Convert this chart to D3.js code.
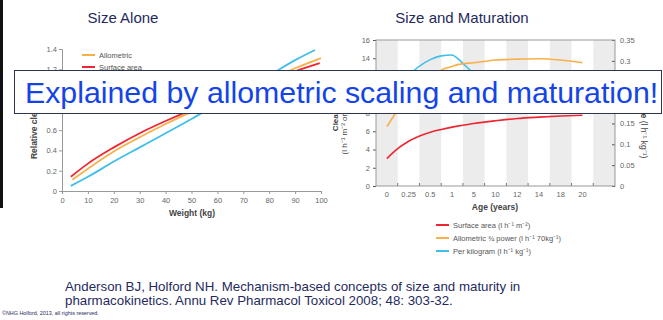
<!DOCTYPE html>
<html>
<head>
<meta charset="utf-8">
<script src="https://cdn.jsdelivr.net/npm/d3@7"></script>
<style>
  html, body { margin: 0; padding: 0; background: #fff; }
  svg { display: block; font-family: "Liberation Sans", Arial, sans-serif; }
</style>
</head>
<body>
<div id="chart"></div>
<script>
// left panel: relative clearance vs weight
const weightPerKg = [3.4, 10, 20, 30, 40, 50, 60, 70, 80, 90, 97.7];
const relPerKg = [0.05, 0.14, 0.29, 0.43, 0.57, 0.71, 0.86, 1.0, 1.14, 1.29, 1.39];
const weightAllo = [4, 10, 20, 30, 40, 50, 60, 70, 80, 90, 100];
const relAllo = [0.11, 0.22, 0.39, 0.53, 0.66, 0.78, 0.89, 1.0, 1.10, 1.21, 1.31];
const weightSurf = [3.4, 10, 20, 30, 40, 50, 60, 70, 80, 90, 99.5];
const relSurf = [0.14, 0.27, 0.43, 0.57, 0.69, 0.80, 0.90, 1.0, 1.09, 1.18, 1.26];
const weightTicks = [0, 10, 20, 30, 40, 50, 60, 70, 80, 90, 100];
const relTicks = [0, 0.2, 0.4, 0.6, 0.8, 1, 1.2, 1.4];

// right panel: clearance vs age
const ageTicks = [0, 0.25, 0.5, 1, 5, 10, 12, 14, 18, 20];
const ageYears = [0, 0.1, 0.25, 0.5, 0.75, 1, 2, 3, 5, 10, 12, 14, 18, 20];
const clSurface = [3.0, 3.9, 4.9, 5.9, 6.2, 6.45, 6.56, 6.66, 6.85, 7.15, 7.4, 7.55, 7.67, 7.75];
const clAllometric = [6.5, 8.0, 10.3, 12.0, 12.7, 13.1, 13.3, 13.4, 13.5, 13.8, 13.9, 13.95, 13.8, 13.5];
const clPerKg = [0.2, 0.23, 0.265, 0.303, 0.312, 0.314, 0.306, 0.294, 0.27, 0.235, 0.225, 0.215, 0.2, 0.195];
const clLeftTicks = [0, 2, 4, 6, 8, 10, 12, 14, 16];
const clRightTicks = [0, 0.05, 0.1, 0.15, 0.2, 0.25, 0.3, 0.35];

const RED = '#ef2530', ORANGE = '#f9b04a', BLUE = '#3fbfe9';
const NAVY = '#1f2b5e';

const svg = d3.select('#chart').append('svg')
    .attr('width', 663)
    .attr('height', 320);

// dark strip on the left edge
svg.append('rect').attr('x', 0).attr('y', 0).attr('width', 3).attr('height', 208).attr('fill', '#111');

// titles
svg.append('text').attr('x', 123).attr('y', 23).attr('text-anchor', 'middle')
    .attr('font-size', 15).attr('fill', NAVY).text('Size Alone');
svg.append('text').attr('x', 462).attr('y', 23).attr('text-anchor', 'middle')
    .attr('font-size', 15).attr('fill', NAVY).text('Size and Maturation');

// ---------- left panel ----------
const xW = d3.scaleLinear().domain([0, 100]).range([62, 321]);
const yRel = d3.scaleLinear().domain([0, 1.4]).range([191, 49]);

const gl = svg.append('g').attr('font-size', 7.5);

const xAxisL = gl.append('g')
    .attr('transform', 'translate(0,191)')
    .call(d3.axisBottom(xW).tickValues(weightTicks).tickSize(3).tickPadding(4).tickFormat(d3.format('d')));
const yAxisL = gl.append('g')
    .attr('transform', 'translate(62,0)')
    .call(d3.axisLeft(yRel).tickValues(relTicks).tickSize(3).tickPadding(2).tickFormat(d => +d.toFixed(1)));
[xAxisL, yAxisL].forEach(a => {
    a.select('.domain').attr('stroke', '#999');
    a.selectAll('.tick line').attr('stroke', '#999');
    a.selectAll('.tick text').attr('fill', '#666').attr('font-family', 'Liberation Sans, Arial, sans-serif').attr('font-size', 7.5);
});

const lineL = d3.line().x(d => xW(d[0])).y(d => yRel(d[1])).curve(d3.curveMonotoneX);
[[weightPerKg, relPerKg, BLUE], [weightAllo, relAllo, ORANGE], [weightSurf, relSurf, RED]].forEach(([w, v, c]) => {
    gl.append('path').datum(w.map((d, i) => [d, v[i]]))
        .attr('d', lineL).attr('fill', 'none').attr('stroke', c).attr('stroke-width', 1.8);
});

// legend left
const legL = [['Allometric', ORANGE], ['Surface area', RED], ['Per kilogram', BLUE]];
legL.forEach(([t, c], i) => {
    const y = 55 + i * 12;
    gl.append('line').attr('x1', 82).attr('x2', 95).attr('y1', y).attr('y2', y).attr('stroke', c).attr('stroke-width', 2);
    gl.append('text').attr('x', 99).attr('y', y + 2.5).attr('fill', '#555').text(t);
});

gl.append('text').attr('x', 192).attr('y', 216).attr('text-anchor', 'middle')
    .attr('font-size', 8.5).attr('font-weight', 'bold').attr('fill', '#444').text('Weight (kg)');
gl.append('text').attr('transform', 'translate(37,122) rotate(-90)').attr('text-anchor', 'middle')
    .attr('font-size', 8.5).attr('font-weight', 'bold').attr('fill', '#444').text('Relative clearance');

// ---------- right panel ----------
const x0 = 376, x1 = 615;
const band = d3.scaleBand().domain(d3.range(11)).range([x0, x1]);
const idxX = i => band(i) + band.bandwidth() / 2;
const xAge = d3.scaleLinear().domain(ageTicks).range(ageTicks.map((d, i) => idxX(i)));
const yCl = d3.scaleLinear().domain([0, 16]).range([186, 40]);
const yKg = d3.scaleLinear().domain([0, 0.35]).range([186, 40]);

const gr = svg.append('g').attr('font-size', 7.5);

gr.selectAll('rect.band').data(band.domain().filter(i => i % 2 === 0)).join('rect')
    .attr('class', 'band')
    .attr('x', d => band(d)).attr('y', 40)
    .attr('width', band.bandwidth()).attr('height', 146)
    .attr('fill', '#ececec');

// bottom ticks at band boundaries
gr.selectAll('line.bt').data(d3.range(1, 11)).join('line')
    .attr('class', 'bt')
    .attr('x1', d => band(d)).attr('x2', d => band(d))
    .attr('y1', 186).attr('y2', 183).attr('stroke', '#777');

gr.selectAll('text.xl').data(ageTicks).join('text')
    .attr('class', 'xl')
    .attr('x', d => xAge(d)).attr('y', 197).attr('text-anchor', 'middle')
    .attr('fill', '#666').text(d => d);

const yAxisR1 = gr.append('g').attr('transform', `translate(${x0},0)`)
    .call(d3.axisLeft(yCl).tickValues(clLeftTicks).tickSize(3).tickPadding(3));
const yAxisR2 = gr.append('g').attr('transform', `translate(${x1},0)`)
    .call(d3.axisRight(yKg).tickValues(clRightTicks).tickSize(-3).tickPadding(5).tickFormat(d => +d.toFixed(2)));
[yAxisR1, yAxisR2].forEach(a => {
    a.select('.domain').remove();
    a.selectAll('.tick line').attr('stroke', '#555');
    a.selectAll('.tick text').attr('fill', '#666').attr('font-family', 'Liberation Sans, Arial, sans-serif').attr('font-size', 7.5);
});

gr.append('rect').attr('x', x0).attr('y', 40).attr('width', x1 - x0).attr('height', 146)
    .attr('fill', 'none').attr('stroke', '#999').attr('stroke-width', 1);

const lineR = yScale => d3.line().x(d => xAge(d[0])).y(d => yScale(d[1])).curve(d3.curveMonotoneX);
[[clPerKg, yKg, BLUE], [clAllometric, yCl, ORANGE], [clSurface, yCl, RED]].forEach(([v, ys, c]) => {
    gr.append('path').datum(ageYears.map((d, i) => [d, v[i]]))
        .attr('d', lineR(ys)).attr('fill', 'none').attr('stroke', c).attr('stroke-width', 1.6);
});

gr.append('text').attr('x', 495).attr('y', 210).attr('text-anchor', 'middle')
    .attr('font-size', 8.5).attr('font-weight', 'bold').attr('fill', '#444').text('Age (years)');

const ylab = gr.append('text').attr('transform', 'translate(338,112) rotate(-90)').attr('text-anchor', 'middle')
    .attr('font-size', 8).attr('fill', '#444');
ylab.append('tspan').attr('x', 0).attr('dy', 0).attr('font-weight', 'bold').text('Clearance');
ylab.append('tspan').attr('x', 0).attr('dy', 9).text('(l h⁻¹ m⁻² or l h⁻¹ 70kg⁻¹)');

const ylab2 = gr.append('text').attr('transform', 'translate(641,118) rotate(90)').attr('text-anchor', 'middle')
    .attr('font-size', 8.5).attr('fill', '#444');
ylab2.append('tspan').attr('font-weight', 'bold').text('Clearance ');
ylab2.append('tspan').text('(l h⁻¹ kg⁻¹)');

// legend right
const legR = [['Surface area (l h⁻¹ m⁻²)', RED], ['Allometric ¾ power (l h⁻¹ 70kg⁻¹)', ORANGE], ['Per kilogram (l h⁻¹ kg⁻¹)', BLUE]];
legR.forEach(([t, c], i) => {
    const y = 225 + i * 13;
    gr.append('line').attr('x1', 436).attr('x2', 449).attr('y1', y).attr('y2', y).attr('stroke', c).attr('stroke-width', 2);
    gr.append('text').attr('x', 453).attr('y', y + 2.5).attr('fill', '#555').text(t);
});

// ---------- overlay banner ----------
svg.append('rect').attr('x', 14.5).attr('y', 70.5).attr('width', 647).attr('height', 43)
    .attr('fill', '#fff').attr('stroke', '#2b3553').attr('stroke-width', 1);
svg.append('text').attr('x', 25).attr('y', 103).attr('font-size', 30.3).attr('fill', '#1444e8')
    .text('Explained by allometric scaling and maturation!');

// ---------- citation ----------
const cite = svg.append('text').attr('font-size', 13.3).attr('fill', NAVY);
cite.append('tspan').attr('x', 65).attr('y', 291).text('Anderson BJ, Holford NH. Mechanism-based concepts of size and maturity in');
cite.append('tspan').attr('x', 65).attr('y', 305).text('pharmacokinetics. Annu Rev Pharmacol Toxicol 2008; 48: 303-32.');

svg.append('text').attr('x', 2).attr('y', 315).attr('font-size', 5.4).attr('fill', NAVY)
    .text('©NHG Holford, 2013, all rights reserved.');
</script>
</body>
</html>
